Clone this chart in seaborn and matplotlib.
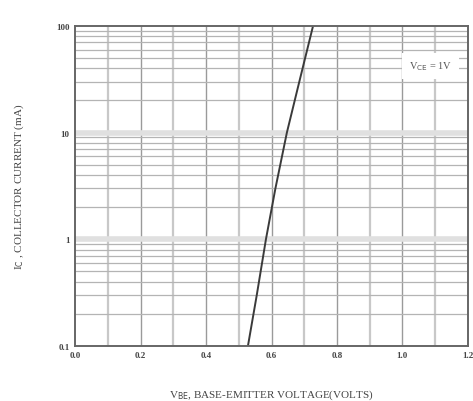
import matplotlib
matplotlib.use("Agg")
import matplotlib.pyplot as plt
import numpy as np
import pandas as pd
import seaborn as sns
from matplotlib.ticker import FixedLocator, LogLocator, NullFormatter

# Base-emitter voltage (V) vs collector current (mA)
V_BE = [0.528, 0.555, 0.583, 0.612, 0.647, 0.685, 0.727]
I_C = [0.1, 0.3, 1.0, 3.0, 10.0, 30.0, 100.0]

X_TICKS = [0.0, 0.2, 0.4, 0.6, 0.8, 1.0, 1.2]
X_TICK_LABELS = ["0.0", "0.2", "0.4", "0.6", "0.8", "1.0", "1.2"]
Y_TICKS = [0.1, 1, 10, 100]
Y_TICK_LABELS = ["0.1", "1", "10", "100"]

sns.set_style("white")
plt.rcParams["font.family"] = ["Liberation Serif", "DejaVu Serif"]

df = pd.DataFrame({"vbe": V_BE, "ic": I_C})

fig = plt.figure(figsize=(4.73, 4.02), dpi=100)
ax = fig.add_axes([0.159, 0.137, 0.83, 0.796])

ax.set_yscale("log")
ax.set_xlim(0.0, 1.2)
ax.set_ylim(0.1, 100)

# grid: 0.1 V verticals, log minor horizontals, light bands at decades
for x in np.arange(0.1, 1.2, 0.1):
    major = round(x * 10) % 2 == 0
    ax.axvline(x, color="#9a9a9a" if major else "#c8c8c8",
               lw=1.0 if major else 1.6, zorder=1)
for dec in [0.1, 1, 10]:
    for m in range(2, 10):
        ax.axhline(dec * m, color="#b4b4b4", lw=0.9, zorder=1)
for y in [1, 10]:
    ax.axhline(y, color="#e0e0e0", lw=4, zorder=1)

sns.lineplot(data=df, x="vbe", y="ic", ax=ax, color="#3a3a3a", lw=1.4,
             zorder=3, legend=False)

ax.xaxis.set_major_locator(FixedLocator(X_TICKS))
ax.set_xticklabels(X_TICK_LABELS)
ax.yaxis.set_major_locator(FixedLocator(Y_TICKS))
ax.yaxis.set_minor_locator(LogLocator(subs=[]))
ax.yaxis.set_minor_formatter(NullFormatter())
ax.set_yticklabels(Y_TICK_LABELS)
ax.tick_params(axis="both", length=0, labelsize=6.5, colors="#444444", pad=4)
for lab in ax.get_xticklabels() + ax.get_yticklabels():
    lab.set_fontweight("bold")

for s in ax.spines.values():
    s.set_color("#666666")
    s.set_linewidth(1.4)
    s.set_zorder(4)

ax.text(0.905, 0.875, r"V$_{\mathrm{CE}}$ = 1V", transform=ax.transAxes,
        fontsize=7.5, color="#555555", ha="center", va="center", zorder=5,
        bbox=dict(facecolor="white", edgecolor="none", pad=5))

ax.set_xlabel(r"V$_{\mathrm{BE}}$, BASE-EMITTER VOLTAGE(VOLTS)", fontsize=8,
              color="#444444", labelpad=20)
ax.set_ylabel(r"I$_{\mathrm{C}}$ , COLLECTOR CURRENT (mA)", fontsize=8,
              color="#444444", labelpad=22)

fig.savefig("out.png", dpi=100)
